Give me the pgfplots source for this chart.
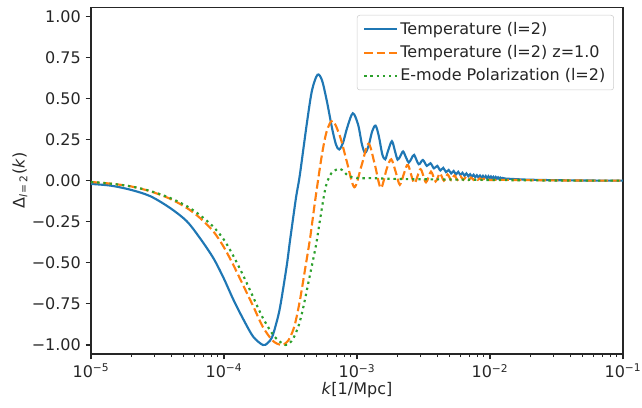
\documentclass[border=0pt]{standalone}
\usepackage{fontspec}
\setmainfont{DejaVu Sans}
\usepackage{pgfplots}
\pgfplotsset{compat=1.18}
\definecolor{tabblue}{HTML}{1F77B4}
\definecolor{taborange}{HTML}{FF7F0E}
\definecolor{tabgreen}{HTML}{2CA02C}
\newcommand{\lbl}{\fontsize{12}{14.4}\selectfont}

\begin{document}
\begin{tikzpicture}
\useasboundingbox (-68.25pt,-39.75pt) rectangle (413.25pt,265.5pt);
\begin{axis}[
    at={(0pt,0pt)}, anchor=south west,
    scale only axis, width=399pt, height=260pt,
    xmode=log, log basis x=10,
    xmin=1e-5, xmax=1e-1, ymin=-1.055, ymax=1.055,
    xtick={1e-5,1e-4,1e-3,1e-2,1e-1},
    xticklabels={10\textsuperscript{−5},10\textsuperscript{−4},10\textsuperscript{−3},10\textsuperscript{−2},10\textsuperscript{−1}},
    minor xtick={2e-5,3e-5,4e-5,5e-5,6e-5,7e-5,8e-5,9e-5,
                 2e-4,3e-4,4e-4,5e-4,6e-4,7e-4,8e-4,9e-4,
                 2e-3,3e-3,4e-3,5e-3,6e-3,7e-3,8e-3,9e-3,
                 2e-2,3e-2,4e-2,5e-2,6e-2,7e-2,8e-2,9e-2},
    ytick={-1,-0.75,-0.5,-0.25,0,0.25,0.5,0.75,1},
    yticklabels={−1.00,−0.75,−0.50,−0.25,0.00,0.25,0.50,0.75,1.00},
    tick pos=left, tick align=outside,
    major tick length=4.1pt, minor tick length=2.3pt,
    every tick/.style={black!85, line width=0.9pt},
    minor tick style={line width=0.7pt},
    axis line style={black!85, line width=0.9pt},
    tick label style={font=\lbl, text=black!85},
    label style={font=\lbl, text=black!85},
    xlabel={\textit{k}[1/Mpc]},
    ylabel={Δ\textsubscript{\textit{l}\,=\,2}(\textit{k})},
    xlabel style={at={(axis description cs:0.5,-0.104)}, anchor=center},
    ylabel style={at={(axis description cs:-0.1335,0.5)}, anchor=center},
    legend style={at={(0.983,0.978)}, anchor=north east, draw=black!20,
        rounded corners=2pt, fill=white, fill opacity=0.8, text opacity=1,
        font=\lbl, text=black!85, row sep=3.2pt, inner xsep=4.5pt, inner ysep=3.5pt,
        nodes={inner sep=1.8pt}},
    legend cell align=left,
    legend image code/.code={\draw[#1] (0pt,0pt) -- (24.5pt,0pt);},
]
% Temperature (l=2)
\addplot[tabblue, line width=1.6pt, smooth] coordinates {
(1e-5,-0.020)(1.4e-5,-0.030)(2e-5,-0.056)(2.8e-5,-0.095)(3.93e-5,-0.166)
(5.25e-5,-0.247)(6.6e-5,-0.35)(8.3e-5,-0.47)(9.9e-5,-0.59)(1.17e-4,-0.72)
(1.4e-4,-0.845)(1.66e-4,-0.95)(1.96e-4,-1.0)(2.12e-4,-0.99)(2.29e-4,-0.956)
(2.45e-4,-0.88)(2.64e-4,-0.77)(2.96e-4,-0.52)(3.13e-4,-0.37)(3.32e-4,-0.22)
(3.5e-4,-0.09)(3.72e-4,0.036)(4.2e-4,0.35)(4.59e-4,0.55)(5.05e-4,0.645)
(5.46e-4,0.61)(5.95e-4,0.48)(6.49e-4,0.32)(6.95e-4,0.22)(7.35e-4,0.19)
(7.85e-4,0.23)(8.42e-4,0.32)(9.3e-4,0.41)(1.02e-3,0.34)(1.09e-3,0.22)
(1.15e-3,0.17)(1.22e-3,0.21)(1.30e-3,0.30)(1.38e-3,0.335)(1.46e-3,0.27)
(1.55e-3,0.16)(1.63e-3,0.13)(1.71e-3,0.18)(1.83e-3,0.24)(1.93e-3,0.18)
(2.02e-3,0.128)(2.12e-3,0.15)(2.22e-3,0.178)(2.34e-3,0.14)(2.45e-3,0.11)
(2.57e-3,0.135)(2.69e-3,0.157)
(2.91e-3,0.100)(3.13e-3,0.126)(3.35e-3,0.090)(3.57e-3,0.106)(3.79e-3,0.075)
(4.01e-3,0.090)(4.23e-3,0.062)(4.45e-3,0.078)(4.67e-3,0.052)(4.89e-3,0.065)
(5.11e-3,0.044)(5.33e-3,0.059)(5.55e-3,0.038)(5.77e-3,0.054)(5.99e-3,0.034)
(6.21e-3,0.048)(6.43e-3,0.030)(6.65e-3,0.044)(6.87e-3,0.027)(7.09e-3,0.039)
(7.31e-3,0.024)(7.53e-3,0.036)(7.75e-3,0.021)(7.97e-3,0.033)(8.19e-3,0.019)
(8.41e-3,0.031)(8.63e-3,0.017)(8.85e-3,0.029)(9.07e-3,0.016)(9.29e-3,0.028)
(9.51e-3,0.015)(9.73e-3,0.027)(9.95e-3,0.014)(1.017e-2,0.025)(1.039e-2,0.013)
(1.061e-2,0.023)(1.083e-2,0.012)(1.105e-2,0.022)(1.127e-2,0.012)(1.149e-2,0.020)
(1.171e-2,0.011)(1.193e-2,0.018)(1.215e-2,0.010)(1.237e-2,0.017)(1.3e-2,0.013)
(1.5e-2,0.010)(1.8e-2,0.007)(2.2e-2,0.005)(3e-2,0.003)(5e-2,0.001)(1e-1,0.0)
};
\addlegendentry{Temperature (l=2)}
% Temperature (l=2) z=1.0
\addplot[taborange, line width=1.6pt, dash pattern=on 6.5pt off 2.8pt, smooth] coordinates {
(1e-5,-0.008)(1.4e-5,-0.018)(2e-5,-0.035)(2.8e-5,-0.065)(3.93e-5,-0.11)
(5.25e-5,-0.166)(6.6e-5,-0.227)(8.3e-5,-0.308)(9.9e-5,-0.40)(1.17e-4,-0.51)
(1.4e-4,-0.64)(1.66e-4,-0.765)(1.96e-4,-0.89)(2.33e-4,-0.975)(2.7e-4,-1.0)
(2.95e-4,-0.985)(3.13e-4,-0.956)(3.4e-4,-0.88)(3.72e-4,-0.73)(4.05e-4,-0.55)
(4.44e-4,-0.35)(4.83e-4,-0.13)(5.43e-4,0.15)(5.92e-4,0.30)(6.56e-4,0.365)
(7.45e-4,0.27)(8.36e-4,0.12)(9.55e-4,-0.04)(1.08e-3,0.09)(1.22e-3,0.225)
(1.36e-3,0.10)(1.51e-3,-0.045)(1.67e-3,0.07)(1.81e-3,0.13)(1.96e-3,0.05)
(2.1e-3,-0.025)(2.27e-3,0.05)(2.42e-3,0.095)(2.7e-3,-0.015)(3.0e-3,0.07)
(3.3e-3,-0.01)(3.6e-3,0.055)(3.9e-3,-0.005)(4.2e-3,0.045)(4.5e-3,0.0)
(4.8e-3,0.038)(5.1e-3,0.003)(5.4e-3,0.032)(5.7e-3,0.004)(6.0e-3,0.027)
(6.3e-3,0.005)(6.6e-3,0.023)(6.9e-3,0.005)(7.2e-3,0.019)(7.5e-3,0.005)
(7.8e-3,0.016)(8.1e-3,0.005)(8.4e-3,0.014)(8.7e-3,0.005)(9.0e-3,0.012)
(9.3e-3,0.004)(9.6e-3,0.010)(9.9e-3,0.004)(1.2e-2,0.005)(2e-2,0.003)
(4e-2,0.001)(1e-1,0.0)
};
\addlegendentry{Temperature (l=2) z=1.0}
% E-mode Polarization (l=2)
\addplot[tabgreen, line width=1.6pt, dash pattern=on 1.75pt off 2.9pt, smooth] coordinates {
(1e-5,-0.008)(1.4e-5,-0.018)(2e-5,-0.035)(2.8e-5,-0.063)(3.93e-5,-0.105)
(5.25e-5,-0.155)(6.6e-5,-0.21)(8.3e-5,-0.28)(1e-4,-0.36)(1.17e-4,-0.455)
(1.4e-4,-0.58)(1.66e-4,-0.71)(1.96e-4,-0.835)(2.4e-4,-0.95)(2.88e-4,-1.0)
(3.1e-4,-0.99)(3.32e-4,-0.96)(3.65e-4,-0.88)(3.95e-4,-0.77)(4.44e-4,-0.57)
(4.9e-4,-0.40)(5.13e-4,-0.30)(5.58e-4,-0.115)(5.9e-4,-0.02)(6.45e-4,0.047)
(7.45e-4,0.072)(8.6e-4,0.03)(1e-3,0.016)(1.33e-3,0.015)(2.1e-3,0.01)
(5e-3,0.007)(1e-2,0.004)(3e-2,0.001)(1e-1,0.0)
};
\addlegendentry{E-mode Polarization (l=2)}
\end{axis}
\end{tikzpicture}
\end{document}
